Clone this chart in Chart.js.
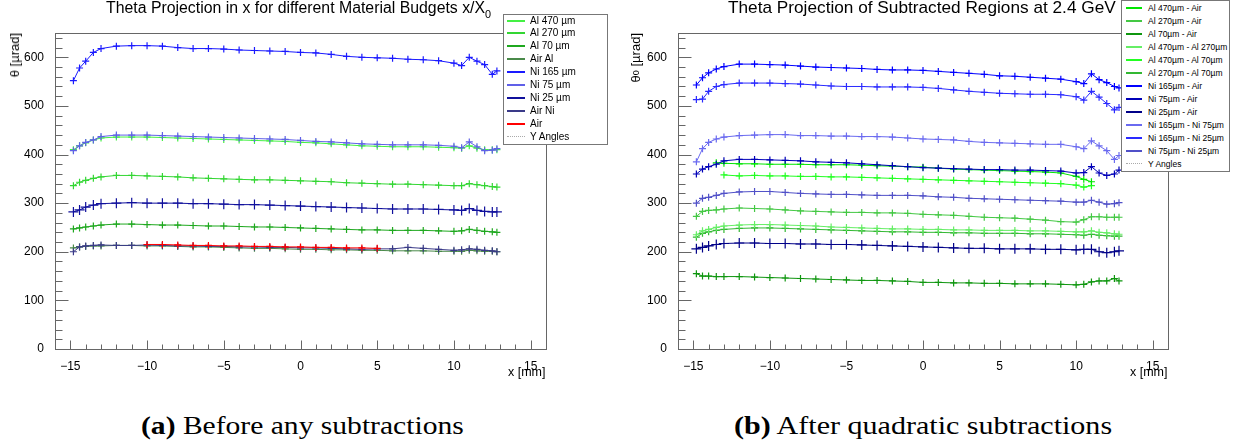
<!DOCTYPE html>
<html>
<head>
<meta charset="utf-8">
<script src="https://cdn.jsdelivr.net/npm/chart.js@4.4.0/dist/chart.umd.min.js"></script>
<style>
  body { margin: 0; background: #fff; width: 1234px; height: 444px; position: relative; overflow: hidden; font-family: "Liberation Sans", Arial, sans-serif; }
  canvas { position: absolute; top: 0; }
  .txt { position: absolute; white-space: nowrap; color: #000; transform-origin: 0 0; }
  .ylab { position: absolute; writing-mode: vertical-rl; transform: rotate(180deg); white-space: nowrap; font-size: 13px; line-height: 14px; }
  .cap { font-family: "Liberation Serif", "DejaVu Serif", serif; font-size: 26px; line-height: 26px; }
  .legend { position: absolute; background: #fff; border: 1px solid #777; box-sizing: border-box; }
  .legend .row { position: absolute; white-space: nowrap; }
  .legend .smp { position: absolute; height: 0; }
</style>
</head>
<body>
<canvas id="left" width="617" height="380" style="left:0"></canvas>
<canvas id="right" width="617" height="380" style="left:617px"></canvas>

<div class="txt" id="tLeft" style="left:106px; top:0; font-size:16px; line-height:16px;">Theta Projection in x for different Material Budgets x/X<sub style="font-size:11px; vertical-align:-5px;">0</sub></div>
<div class="txt" id="tRight" style="left:728px; top:-1px; font-size:17px; line-height:17px;">Theta Projection of Subtracted Regions at 2.4 GeV</div>

<div class="ylab" style="left:8px; top:33px;">θ [µrad]</div>
<div class="ylab" style="left:629px; top:33px;">θ<span style="font-size:9px;">0</span> [µrad]</div>

<div class="txt" style="left:508px; top:365px; font-size:12.5px; line-height:14px;">x [mm]</div>
<div class="txt" style="left:1130px; top:365px; font-size:12.5px; line-height:14px;">x [mm]</div>

<div class="txt cap" id="cLeft" style="left:141px; top:413px;"><b>(a)</b> Before any subtractions</div>
<div class="txt cap" id="cRight" style="left:734px; top:413px;"><b>(b)</b> After quadratic subtractions</div>

<div class="legend" id="legLeft" style="left:503px; top:14px; width:105px; height:131px;"></div>
<div class="legend" id="legRight" style="left:1121px; top:0; width:109px; height:172px;"></div>

<script>
// x positions of the points [mm]
const xPos = [-14.8, -14.4, -14, -13.5, -13, -12, -11, -10, -9, -8, -7, -6, -5, -4, -3, -2, -1, 0,
  1, 2, 3, 4, 5, 6, 7, 8, 9, 10, 10.5, 11, 11.5, 12, 12.5, 12.8];

const xTicks = [-15, -10, -5, 0, 5, 10, 15];
const yTicks = [0, 100, 200, 300, 400, 500, 600];

// (a) before subtractions, theta [urad]
const ni165 = [552, 578, 592, 610, 618, 623, 624, 624, 623, 620, 618, 618, 617, 615, 614, 613, 612, 610, 609, 606, 602, 600, 599, 598, 596, 595, 593, 588, 583, 600, 592, 585, 565, 572];
const ni75 = [408, 418, 425, 430, 437, 440, 440, 440, 439, 438, 437, 436, 435, 434, 433, 432, 431, 429, 427, 426, 424, 422, 421, 420, 420, 420, 419, 417, 414, 426, 416, 408, 409, 412];
const al470 = [410, 418, 424, 430, 434, 436, 436, 436, 435, 434, 433, 432, 431, 430, 429, 428, 427, 425, 424, 422, 420, 418, 417, 416, 416, 416, 415, 414, 413, 418, 413, 410, 410, 410];
const al270 = [336, 343, 347, 351, 354, 357, 357, 356, 355, 354, 352, 351, 350, 349, 348, 348, 347, 346, 345, 344, 342, 341, 340, 339, 339, 338, 337, 336, 336, 340, 338, 336, 334, 333];
const ni25 = [282, 286, 292, 296, 299, 300, 301, 300, 300, 300, 299, 299, 298, 297, 297, 296, 295, 294, 293, 292, 291, 290, 289, 288, 288, 288, 287, 286, 285, 289, 285, 283, 282, 282];
const al70 = [247, 249, 251, 253, 255, 257, 257, 256, 255, 255, 254, 253, 253, 252, 251, 251, 250, 249, 248, 247, 246, 245, 245, 244, 244, 244, 243, 242, 243, 246, 244, 242, 241, 240];
const airAl = [208, 210, 211, 212, 212, 213, 213, 212, 212, 211, 210, 210, 209, 208, 207, 207, 206, 205, 205, 204, 204, 203, 203, 202, 202, 202, 201, 201, 201, 203, 202, 201, 201, 200];
const airNi = [200, 210, 212, 213, 214, 213, 213, 214, 213, 212, 212, 211, 211, 210, 210, 209, 209, 208, 208, 207, 206, 205, 206, 206, 209, 207, 205, 203, 204, 206, 205, 203, 202, 200];
const air = [null, null, null, null, null, null, null, 215, 215, 214, 213, 213, 212, 212, 211, 211, 210, 210, 209, 209, 208, 208, 207, null, null, null, null, null, null, null, null, null, null, null];

// (b) after quadratic subtractions, theta_0 [urad]
const ni165Air = [543, 558, 568, 576, 581, 586, 586, 585, 584, 582, 580, 579, 578, 577, 575, 574, 574, 573, 571, 569, 567, 565, 562, 561, 559, 557, 555, 550, 546, 566, 554, 548, 540, 537];
const ni165Ni25 = [513, 514, 530, 540, 544, 547, 547, 547, 546, 545, 543, 541, 540, 540, 539, 539, 539, 538, 536, 533, 530, 528, 526, 525, 524, 524, 523, 519, 512, 530, 518, 505, 492, 497];
const ni165Ni75 = [385, 412, 425, 432, 436, 439, 440, 441, 441, 439, 439, 438, 438, 437, 437, 436, 434, 432, 431, 430, 427, 425, 424, 423, 422, 421, 421, 416, 412, 428, 418, 408, 390, 398];
const ni75Air = [360, 370, 375, 380, 387, 390, 390, 389, 388, 387, 385, 384, 383, 381, 379, 377, 375, 373, 372, 371, 370, 369, 369, 368, 368, 367, 366, 362, 363, 375, 362, 357, 360, 368];
const al470Air = [null, null, null, 383, 382, 381, 381, 380, 380, 380, 379, 379, 379, 378, 377, 376, 375, 374, 372, 370, 369, 368, 367, 366, 365, 364, 362, 355, 349, 344, null, null, null, null];
const al470Al70 = [null, null, null, null, 358, 356, 357, 356, 356, 355, 355, 354, 354, 353, 352, 351, 350, 349, 348, 347, 346, 345, 344, 343, 342, 341, 340, 337, 333, 336, null, null, null, null];
const ni75Ni25 = [300, 310, 312, 316, 320, 323, 324, 324, 322, 320, 319, 318, 318, 317, 316, 316, 316, 315, 313, 312, 310, 309, 308, 307, 306, 305, 304, 302, 302, 306, 302, 298, 299, 301];
const al270Air = [273, 283, 285, 286, 288, 290, 289, 288, 286, 284, 283, 282, 281, 281, 280, 280, 279, 277, 276, 275, 273, 271, 270, 269, 267, 265, 262, 261, 266, 272, 272, 271, 271, 271];
const al470Al270 = [235, 243, 246, 250, 253, 255, 256, 256, 255, 254, 253, 251, 250, 249, 248, 247, 247, 246, 246, 245, 245, 244, 244, 244, 243, 243, 242, 241, 241, 243, 240, 239, 237, 236];
const al270Al70 = [230, 238, 241, 244, 246, 248, 249, 249, 248, 247, 246, 245, 244, 243, 242, 241, 241, 240, 240, 239, 239, 238, 238, 238, 237, 237, 236, 235, 234, 236, 234, 233, 232, 232];
const ni25Air = [206, 209, 212, 215, 217, 218, 218, 217, 217, 216, 216, 215, 215, 214, 213, 212, 211, 210, 209, 208, 207, 207, 206, 206, 206, 205, 205, 204, 205, 205, 200, 198, 200, 202];
const al70Air = [155, 150, 150, 149, 149, 149, 148, 147, 146, 145, 144, 143, 142, 141, 141, 140, 139, 137, 137, 136, 136, 135, 135, 134, 134, 134, 133, 132, 133, 138, 140, 140, 145, 140];

const leftNames = ["Al 470 \u00b5m", "Al 270 \u00b5m", "Al 70 \u00b5m", "Air Al", "Ni 165 \u00b5m", "Ni 75 \u00b5m", "Ni 25 \u00b5m", "Air Ni", "Air", "Y Angles"];
const leftColors = ["#44f044", "#33d633", "#1fa81f", "#4a8a4a", "#1a1aff", "#6060e8", "#10109c", "#3a3a88", "#ff0000", "#c8c8d8"];
const leftValues = [al470, al270, al70, airAl, ni165, ni75, ni25, airNi, air];

const rightNames = ["Al 470\u00b5m - Air", "Al 270\u00b5m - Air", "Al 70\u00b5m - Air", "Al 470\u00b5m - Al 270\u00b5m",
  "Al 470\u00b5m - Al 70\u00b5m", "Al 270\u00b5m - Al 70\u00b5m", "Ni 165\u00b5m - Air", "Ni 75\u00b5m - Air",
  "Ni 25\u00b5m - Air", "Ni 165\u00b5m - Ni 75\u00b5m", "Ni 165\u00b5m - Ni 25\u00b5m", "Ni 75\u00b5m - Ni 25\u00b5m", "Y Angles"];
const rightColors = ["#00e600", "#44c844", "#0f960f", "#66ee66", "#22ff22", "#33b833", "#0000ff", "#0000b8", "#000088", "#6a6af0", "#2a2aff", "#5050c8", "#c8c8d8"];
const rightValues = [al470Air, al270Air, al70Air, al470Al270, al470Al70, al270Al70, ni165Air, ni75Air, ni25Air, ni165Ni75, ni165Ni25, ni75Ni25];

// ROOT style frame with ticks pointing inside
const frameTicks = {
  id: "frameTicks",
  afterDatasetsDraw(chart) {
    const { ctx, chartArea: a, scales } = chart;
    const x = scales.x, y = scales.y;
    const L = Math.round(a.left) + 0.5, R = Math.round(a.right) + 0.5;
    const T = Math.round(a.top) + 0.5, B = Math.round(a.bottom) + 0.5;
    ctx.save();
    ctx.lineWidth = 1;
    ctx.strokeStyle = "#666";
    ctx.strokeRect(L, T, R - L, B - T);
    ctx.beginPath();
    for (let v = -16; v <= 16; v++) {
      const px = Math.round(x.getPixelForValue(v)) + 0.5;
      const len = v % 5 === 0 ? 9 : 5;
      ctx.moveTo(px, B); ctx.lineTo(px, B - len);
    }
    for (let v = 0; v <= 640; v += 20) {
      const py = Math.round(y.getPixelForValue(v)) + 0.5;
      const len = v % 100 === 0 ? 13 : 7;
      ctx.moveTo(L, py); ctx.lineTo(L + len, py);
    }
    ctx.stroke();
    ctx.restore();
  }
};

// wide: series drawn with bigger error crosses (Ni 25 based ones)
function makeSets(values, names, colors, order, wide) {
  return order.map(i => ({
    label: names[i],
    data: xPos.map((x, k) => ({ x: x, y: values[i][k] })),
    borderColor: colors[i],
    backgroundColor: colors[i],
    borderWidth: 1,
    pointStyle: "cross",
    pointRadius: wide.includes(i) ? 5 : 3.5,
    pointBorderWidth: 1.2,
    pointBorderColor: colors[i],
    spanGaps: false
  }));
}

function makeChart(id, sets, yWidth, rightPad) {
  const tickFont = { family: "Liberation Sans", size: 12 };
  return new Chart(document.getElementById(id), {
    type: "line",
    data: { datasets: sets },
    options: {
      responsive: false,
      animation: false,
      devicePixelRatio: 1,
      layout: { padding: { left: 0, top: 33, right: rightPad, bottom: 9 } },
      plugins: { legend: { display: false }, tooltip: { enabled: false } },
      scales: {
        x: {
          type: "linear", min: -16, max: 16,
          grid: { display: false }, border: { display: false },
          afterBuildTicks: s => { s.ticks = xTicks.map(v => ({ value: v })); },
          afterFit: s => { s.height = 22; },
          ticks: { autoSkip: false, maxRotation: 0, padding: 2, color: "#000", font: tickFont,
            callback: v => String(v).replace("-", "\u2212") }
        },
        y: {
          type: "linear", min: 0, max: 650,
          grid: { display: false }, border: { display: false },
          afterBuildTicks: s => { s.ticks = yTicks.map(v => ({ value: v })); },
          afterFit: s => { s.width = yWidth; },
          ticks: { autoSkip: false, padding: 3, color: "#000", font: tickFont }
        }
      }
    },
    plugins: [frameTicks]
  });
}

// first dataset ends up on top
makeChart("left", makeSets(leftValues, leftNames, leftColors, [8, 7, 4, 5, 6, 0, 1, 2, 3], [6]), 55, 71);
makeChart("right", makeSets(rightValues, rightNames, rightColors, [6, 10, 9, 7, 11, 8, 0, 4, 1, 3, 5, 2], [8]), 61, 66);

function buildLegend(id, names, colors, first, step, smpLeft, smpWidth, textLeft, fontSize) {
  const box = document.getElementById(id);
  names.forEach((n, i) => {
    const cy = first + i * step;
    const s = document.createElement("div");
    s.className = "smp";
    s.style.left = smpLeft + "px";
    s.style.width = smpWidth + "px";
    s.style.top = (cy - 1) + "px";
    s.style.borderTop = n === "Y Angles" ? "1px dotted #aaa" : "2px solid " + colors[i];
    box.appendChild(s);
    const t = document.createElement("div");
    t.className = "row";
    t.textContent = n;
    t.style.left = textLeft + "px";
    t.style.fontSize = fontSize + "px";
    t.style.lineHeight = "12px";
    t.style.top = (cy - 6) + "px";
    box.appendChild(t);
  });
}
buildLegend("legLeft", leftNames, leftColors, 5.5, 12.95, 3, 18, 26, 10);
buildLegend("legRight", rightNames, rightColors, 6.5, 13.06, 4, 16, 26, 8.5);

// stretch the text blocks to the measured widths of the original
function fitWidth(id, w) {
  const el = document.getElementById(id);
  el.style.transform = "scaleX(" + (w / el.offsetWidth) + ")";
}
fitWidth("tLeft", 385);
fitWidth("tRight", 388);
fitWidth("cLeft", 323);
fitWidth("cRight", 378);
</script>
</body>
</html>
